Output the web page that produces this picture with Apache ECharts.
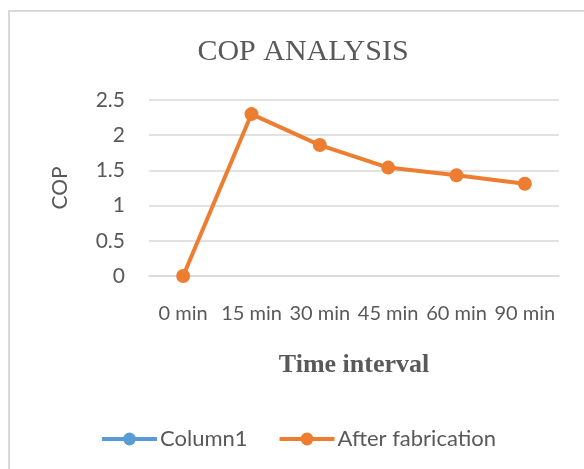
<!DOCTYPE html>
<html>
<head>
<meta charset="utf-8">
<script src="https://cdn.jsdelivr.net/npm/echarts@6/dist/echarts.min.js"></script>
<style>
html,body{margin:0;padding:0;background:#fff;}
#chart{width:584px;height:469px;}
</style>
</head>
<body>
<div id="chart"></div>
<script>
var categories = ["0 min", "15 min", "30 min", "45 min", "60 min", "90 min"];
var afterFabrication = [0, 2.3, 1.86, 1.54, 1.43, 1.31];
var column1 = [];
var yTicks = { min: 0, max: 2.5, interval: 0.5 };

var sans = "Lato, 'Open Sans', sans-serif";
var serif = "'Liberation Serif', 'DejaVu Serif', serif";
var textColor = "#595959";

var chart = echarts.init(document.getElementById('chart'));
chart.setOption({
  animation: false,
  backgroundColor: '#fff',
  graphic: [{
    type: 'rect',
    shape: { x: 9, y: 11, width: 620, height: 520 },
    style: { fill: 'none', stroke: '#d9d9d9', lineWidth: 2 },
    silent: true
  }],
  title: {
    text: 'COP ANALYSIS',
    left: 298,
    textAlign: 'center',
    top: 32,
    textStyle: { fontFamily: serif, fontSize: 30, fontWeight: 'normal', color: textColor }
  },
  legend: {
    left: 95,
    top: 423,
    itemWidth: 55,
    itemHeight: 16,
    itemGap: 30,
    lineStyle: { width: 4 },
    textStyle: { fontFamily: sans, fontSize: 22, color: textColor, padding: [0, 0, 0, -2] },
    data: ['Column1', 'After fabrication']
  },
  grid: { left: 149, right: 25, top: 100, bottom: 193 },
  xAxis: {
    type: 'category',
    data: categories,
    boundaryGap: true,
    axisLine: { show: true, lineStyle: { color: '#d9d9d9', width: 1.5 } },
    axisTick: { show: false },
    axisLabel: { fontFamily: sans, fontSize: 20, color: textColor, margin: 28, interval: 0 },
    name: 'Time interval',
    nameLocation: 'middle',
    nameGap: 76,
    nameTextStyle: { fontFamily: serif, fontSize: 26, fontWeight: 'bold', color: textColor }
  },
  yAxis: {
    type: 'value',
    min: yTicks.min,
    max: yTicks.max,
    interval: yTicks.interval,
    axisLine: { show: false },
    axisTick: { show: false },
    splitLine: { lineStyle: { color: '#d9d9d9', width: 1.5 } },
    axisLabel: { fontFamily: sans, fontSize: 21, color: textColor, margin: 24 },
    name: 'COP',
    nameLocation: 'middle',
    nameRotate: 90,
    nameGap: 78,
    nameTextStyle: { fontFamily: sans, fontSize: 21, color: textColor }
  },
  series: [{
    name: 'Column1',
    type: 'line',
    data: column1,
    color: '#5B9BD5',
    symbol: 'circle',
    symbolSize: 14,
    lineStyle: { width: 4 }
  }, {
    name: 'After fabrication',
    type: 'line',
    data: afterFabrication,
    color: '#ED7D31',
    symbol: 'circle',
    symbolSize: 14,
    lineStyle: { width: 4 }
  }]
});
</script>
</body>
</html>
